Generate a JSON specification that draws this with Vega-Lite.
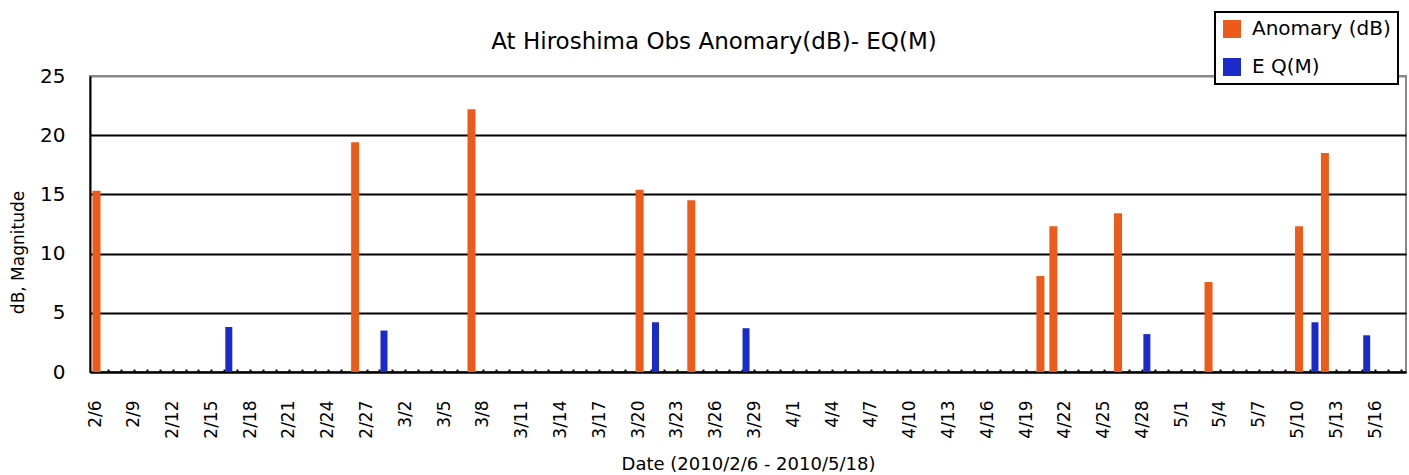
{
  "$schema": "https://vega.github.io/schema/vega-lite/v6.json",
  "width": 1316,
  "height": 296,
  "autosize": "none",
  "padding": {"left": 90, "top": 76, "right": 3, "bottom": 103},
  "background": "white",
  "title": {
    "text": "At Hiroshima Obs Anomary(dB)- EQ(M)",
    "font": "DejaVu Sans",
    "fontSize": 23,
    "fontWeight": "normal",
    "color": "black",
    "anchor": "middle",
    "dx": -34,
    "offset": 0,
    "dy": 43
  },
  "data": {
    "values": [
      {"date": "2010/02/06", "series": "Anomary (dB)", "value": 15.3},
      {"date": "2010/02/26", "series": "Anomary (dB)", "value": 19.4},
      {"date": "2010/03/07", "series": "Anomary (dB)", "value": 22.2},
      {"date": "2010/03/20", "series": "Anomary (dB)", "value": 15.4},
      {"date": "2010/03/24", "series": "Anomary (dB)", "value": 14.5},
      {"date": "2010/04/20", "series": "Anomary (dB)", "value": 8.1},
      {"date": "2010/04/21", "series": "Anomary (dB)", "value": 12.3},
      {"date": "2010/04/26", "series": "Anomary (dB)", "value": 13.4},
      {"date": "2010/05/03", "series": "Anomary (dB)", "value": 7.6},
      {"date": "2010/05/10", "series": "Anomary (dB)", "value": 12.3},
      {"date": "2010/05/12", "series": "Anomary (dB)", "value": 18.5},
      {"date": "2010/02/16", "series": "E Q(M)", "value": 3.8},
      {"date": "2010/02/28", "series": "E Q(M)", "value": 3.5},
      {"date": "2010/03/21", "series": "E Q(M)", "value": 4.2},
      {"date": "2010/03/28", "series": "E Q(M)", "value": 3.7},
      {"date": "2010/04/28", "series": "E Q(M)", "value": 3.2},
      {"date": "2010/05/11", "series": "E Q(M)", "value": 4.2},
      {"date": "2010/05/15", "series": "E Q(M)", "value": 3.1}
    ]
  },
  "encoding": {
    "x": {
      "field": "date",
      "type": "temporal",
      "title": "Date (2010/2/6 - 2010/5/18)",
      "scale": {
        "domain": [{"year": 2010, "month": 2, "date": 6}, {"year": 2010, "month": 5, "date": 18}],
        "nice": false
      },
      "axis": {
        "tickCount": {"interval": "day", "step": 1},
        "labelExpr": "round((datum.value - datetime(2010,1,6)) / 86400000) % 3 == 0 ? timeFormat(datum.value, '%-m/%-d') : ''",
        "labelAngle": -90,
        "labelFont": "DejaVu Sans",
        "labelFontSize": 17,
        "labelColor": "black",
        "labelOverlap": false,
        "labelFlush": false,
        "labelBound": false,
        "labelPadding": 31,
        "tickSize": -3,
        "tickColor": "black",
        "tickWidth": 2,
        "domainColor": "black",
        "domainWidth": 2,
        "grid": false,
        "titleFont": "DejaVu Sans",
        "titleFontSize": 18,
        "titleFontWeight": "normal",
        "titleColor": "black",
        "titleY": 83
      }
    },
    "y": {
      "field": "value",
      "type": "quantitative",
      "title": "dB, Magnitude",
      "scale": {"domain": [0, 25], "nice": false},
      "axis": {
        "values": [0, 5, 10, 15, 20, 25],
        "ticks": false,
        "labelFont": "DejaVu Sans",
        "labelFontSize": 20,
        "labelColor": "black",
        "labelPadding": 25,
        "domainColor": "black",
        "domainWidth": 2,
        "grid": true,
        "gridColor": {"condition": {"test": "datum.value == 25", "value": "#888888"}, "value": "black"},
        "gridWidth": 2,
        "gridOpacity": 1,
        "titleFont": "DejaVu Sans",
        "titleFontSize": 17,
        "titleFontWeight": "normal",
        "titleColor": "black",
        "titlePadding": 12,
        "titleY": 176
      }
    },
    "color": {
      "field": "series",
      "type": "nominal",
      "scale": {"domain": ["Anomary (dB)", "E Q(M)"], "range": ["#EC5B1A", "#1B2BC9"]},
      "legend": {
        "orient": "none",
        "legendX": 1125,
        "legendY": -64,
        "title": null,
        "symbolType": "square",
        "symbolSize": 324,
        "symbolStrokeWidth": 0,
        "labelFont": "DejaVu Sans",
        "labelFontSize": 20,
        "labelColor": "black",
        "labelOffset": 10,
        "padding": 7,
        "rowPadding": 18,
        "strokeColor": "black",
        "fillColor": "white"
      }
    }
  },
  "layer": [
    {
      "transform": [{"filter": "datum.series == 'Anomary (dB)'"}],
      "mark": {"type": "bar", "width": 8, "xOffset": 1.5, "clip": true}
    },
    {
      "transform": [{"filter": "datum.series == 'E Q(M)'"}],
      "mark": {"type": "bar", "width": 7, "xOffset": 4.5, "clip": true}
    }
  ],
  "config": {
    "view": {"stroke": "#888888", "strokeWidth": 2},
    "legend": {"strokeWidth": 2}
  }
}
